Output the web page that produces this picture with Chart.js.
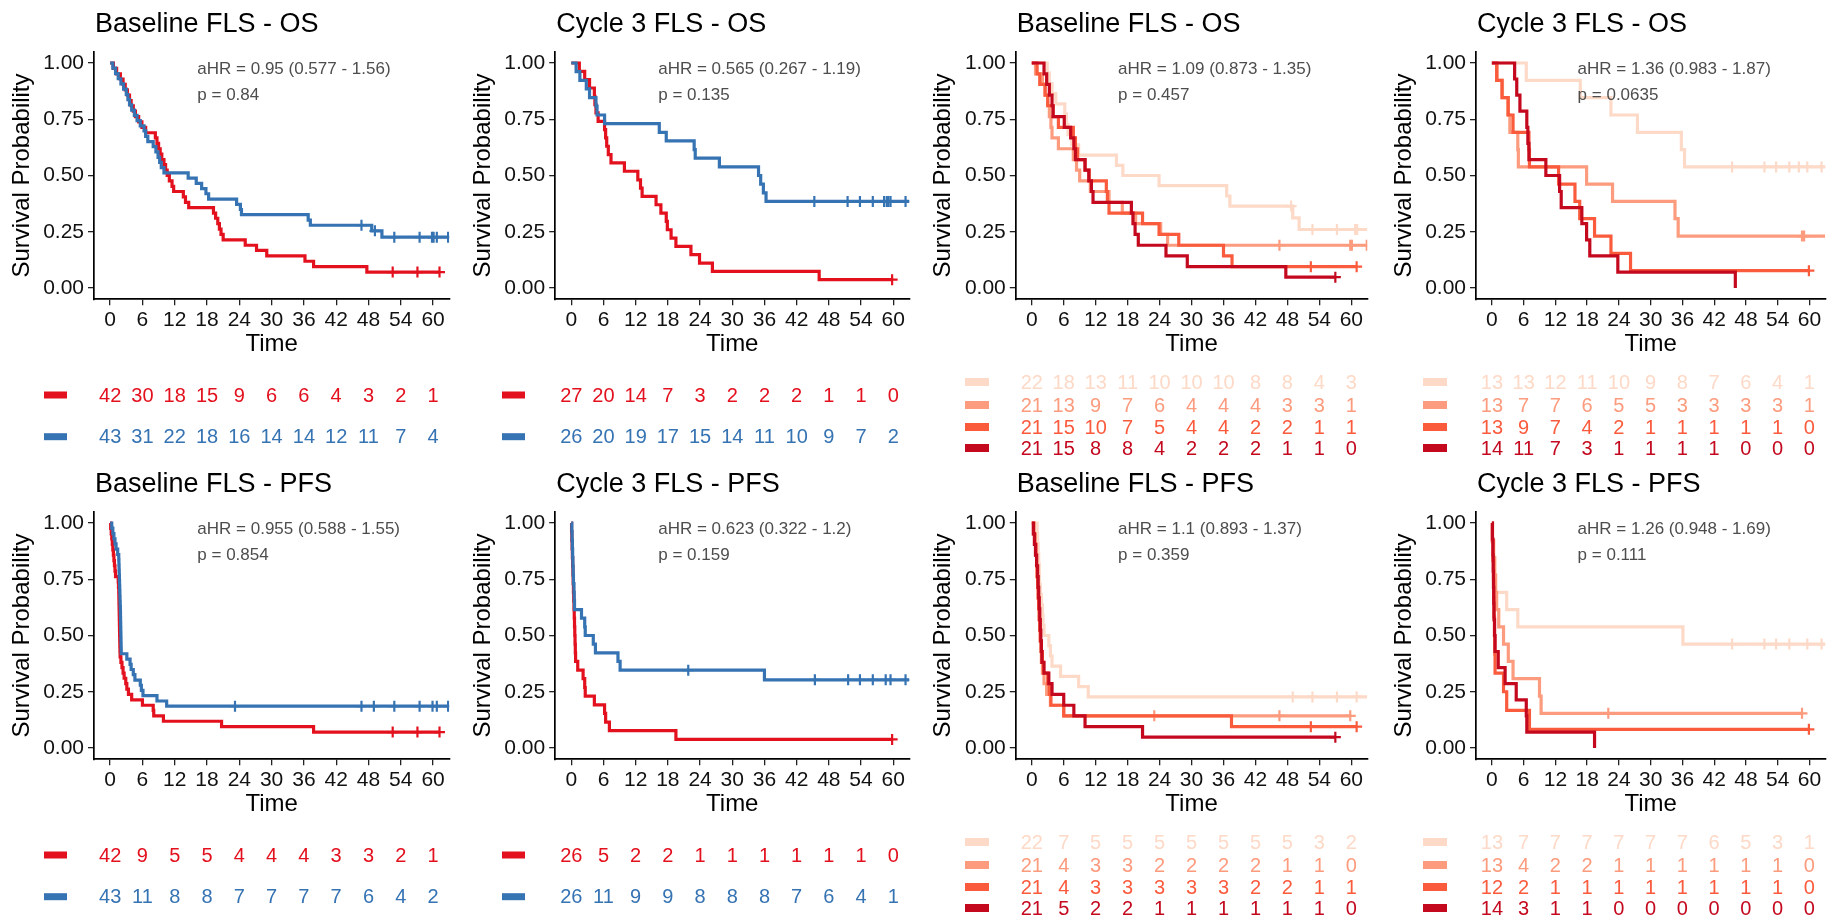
<!DOCTYPE html>
<html><head><meta charset="utf-8">
<script src="https://cdn.jsdelivr.net/npm/chart.js@4"></script>
<style>html,body{margin:0;padding:0;background:#fff;} .panel{position:absolute;}</style>
</head><body>
<div id="root" style="position:relative;width:1833px;height:918px;background:#fff;"></div>
<script>
// ---------------- DATA ----------------
const panelTitles = ["Baseline FLS - OS","Cycle 3 FLS - OS","Baseline FLS - OS","Cycle 3 FLS - OS",
                     "Baseline FLS - PFS","Cycle 3 FLS - PFS","Baseline FLS - PFS","Cycle 3 FLS - PFS"];
const hrLabels = ["aHR = 0.95 (0.577 - 1.56)","aHR = 0.565 (0.267 - 1.19)","aHR = 1.09 (0.873 - 1.35)","aHR = 1.36 (0.983 - 1.87)",
                  "aHR = 0.955 (0.588 - 1.55)","aHR = 0.623 (0.322 - 1.2)","aHR = 1.1 (0.893 - 1.37)","aHR = 1.26 (0.948 - 1.69)"];
const pLabels = ["p = 0.84","p = 0.135","p = 0.457","p = 0.0635","p = 0.854","p = 0.159","p = 0.359","p = 0.111"];
const xTickValues = [0,6,12,18,24,30,36,42,48,54,60];
const yTickValues = [0,0.25,0.5,0.75,1];
const riskTimes = [0,6,12,18,24,30,36,42,48,54,60];
const xAxisTitle = "Time";
const yAxisTitle = "Survival Probability";

// Panel 1: Baseline FLS - OS (2 groups)
const p1Red = [[0,1],[0.6,0.976],[1.2,0.952],[1.9,0.929],[2.4,0.905],[2.8,0.881],[3.2,0.857],[3.6,0.833],[3.9,0.810],[4.3,0.786],[4.7,0.762],[5.3,0.738],[5.9,0.714],[6.6,0.690],[8.4,0.667],[8.7,0.643],[9.0,0.619],[9.3,0.595],[9.6,0.571],[10.0,0.548],[10.3,0.524],[10.6,0.500],[11.0,0.476],[11.5,0.452],[11.8,0.429],[13.6,0.405],[14.0,0.381],[14.6,0.357],[19.2,0.333],[19.6,0.310],[20.0,0.286],[20.3,0.262],[20.6,0.238],[21.0,0.214],[25.1,0.190],[27.2,0.167],[29.1,0.143],[36.2,0.119],[37.8,0.095],[47.7,0.071],[61.2,0.071]];
const p1RedCensor = [52.5,57.1,61.2];
const p1Blue = [[0,1],[0.5,0.977],[1.0,0.953],[1.5,0.930],[2.0,0.907],[2.5,0.884],[3.0,0.860],[3.3,0.837],[3.6,0.814],[4.0,0.791],[4.5,0.767],[5.0,0.744],[5.6,0.721],[6.3,0.698],[6.6,0.674],[7.0,0.651],[8.0,0.628],[8.5,0.605],[8.9,0.581],[9.2,0.558],[9.5,0.535],[10.0,0.512],[14.5,0.488],[16.0,0.465],[17.0,0.442],[17.8,0.419],[18.3,0.395],[23.5,0.372],[24.2,0.349],[24.4,0.326],[36.8,0.302],[37.2,0.279],[48.6,0.254],[50.5,0.226],[63,0.226]];
const p1BlueCensor = [46.7,49.2,52.8,57.5,59.8,60.1,60.7,62.8];
const p1RedRisk = [42,30,18,15,9,6,6,4,3,2,1];
const p1BlueRisk = [43,31,22,18,16,14,14,12,11,7,4];

// Panel 2: Cycle 3 FLS - OS (2 groups)
const p2Red = [[0,1],[1.5,0.963],[2.5,0.926],[3.4,0.889],[4.3,0.852],[4.4,0.815],[4.6,0.778],[5.0,0.741],[6.2,0.704],[6.4,0.667],[6.6,0.630],[6.9,0.593],[7.4,0.556],[9.9,0.519],[12.4,0.481],[12.9,0.444],[13.2,0.407],[15.8,0.370],[16.7,0.333],[17.7,0.296],[17.9,0.259],[18.6,0.222],[19.5,0.185],[22.3,0.148],[23.9,0.111],[26.3,0.074],[46.2,0.037],[59.8,0.037]];
const p2RedCensor = [59.8];
const p2Blue = [[0,1],[0.9,0.962],[1.6,0.923],[2.8,0.885],[3.4,0.846],[4.6,0.808],[4.8,0.769],[6.2,0.731],[16.4,0.692],[17.7,0.654],[22.9,0.615],[23.1,0.577],[27.6,0.538],[34.9,0.500],[35.3,0.462],[35.8,0.423],[36.3,0.385],[63,0.385]];
const p2BlueCensor = [45.3,51.5,53.8,56.2,58.3,58.8,59.1,59.5,62.3];
const p2RedRisk = [27,20,14,7,3,2,2,2,1,1,0];
const p2BlueRisk = [26,20,19,17,15,14,11,10,9,7,2];

// Panel 3: Baseline FLS - OS (4 groups)
const p3G1 = [[0,1],[2.9,0.955],[3.3,0.909],[3.8,0.864],[4.5,0.818],[6.2,0.773],[6.5,0.727],[6.8,0.682],[7.5,0.636],[8.8,0.591],[15.9,0.545],[17.1,0.500],[23.9,0.455],[36.6,0.409],[37.2,0.364],[49.0,0.312],[50.2,0.260],[63,0.260]];
const p3G1Censor = [48.7,52.7,57.3,60.7,61.1];
const p3G2 = [[0,1],[0.7,0.952],[2.0,0.905],[2.5,0.857],[3.0,0.810],[3.3,0.762],[3.6,0.714],[3.8,0.667],[5.0,0.619],[7.8,0.571],[8.4,0.524],[9.0,0.476],[11.0,0.429],[14.5,0.381],[17.0,0.333],[19.5,0.286],[24.2,0.238],[25.5,0.190],[63,0.190]];
const p3G2Censor = [46.5,59.8,60.1,62.9];
const p3G3 = [[0,1],[1.0,0.952],[1.5,0.905],[2.5,0.857],[3.0,0.810],[4.0,0.762],[5.0,0.714],[7.8,0.667],[8.2,0.619],[8.6,0.571],[10.0,0.524],[10.8,0.476],[14.0,0.429],[14.2,0.381],[14.5,0.333],[20.8,0.286],[23.9,0.238],[27.6,0.190],[36.0,0.143],[37.6,0.095],[61.0,0.095]];
const p3G3Censor = [52.4,61.0];
const p3G4 = [[0,1],[2.3,0.952],[2.8,0.905],[3.3,0.857],[3.8,0.810],[4.0,0.762],[6.1,0.714],[7.3,0.667],[7.9,0.619],[8.2,0.571],[10.0,0.524],[10.7,0.476],[11.2,0.429],[11.5,0.381],[18.7,0.333],[19.0,0.286],[19.4,0.238],[20.0,0.190],[25.2,0.143],[29.2,0.095],[47.7,0.048],[57.0,0.048]];
const p3G4Censor = [57.0];
const p3G1Risk = [22,18,13,11,10,10,10,8,8,4,3];
const p3G2Risk = [21,13,9,7,6,4,4,4,3,3,1];
const p3G3Risk = [21,15,10,7,5,4,4,2,2,1,1];
const p3G4Risk = [21,15,8,8,4,2,2,2,1,1,0];

// Panel 4: Cycle 3 FLS - OS (4 groups)
const p4G1 = [[0,1],[6.5,0.923],[16.7,0.846],[22.5,0.769],[27.5,0.692],[35.8,0.615],[36.4,0.538],[63,0.538]];
const p4G1Censor = [45.4,51.5,53.7,56.2,58.0,59.6,62.3];
const p4G2 = [[0,1],[1.0,0.923],[2.0,0.846],[3.0,0.769],[3.4,0.692],[4.9,0.615],[5.0,0.538],[17.9,0.462],[22.8,0.385],[34.6,0.308],[35.2,0.231],[63,0.231]];
const p4G2Censor = [58.6,59.0];
const p4G3 = [[0,1],[0.9,0.923],[1.9,0.846],[3.1,0.769],[4.0,0.692],[7.0,0.615],[7.1,0.538],[12.6,0.462],[15.7,0.385],[16.6,0.308],[19.4,0.231],[22.5,0.154],[26.2,0.077],[59.9,0.077]];
const p4G3Censor = [59.9];
const p4G4 = [[0,1],[4.3,0.929],[4.7,0.857],[5.3,0.786],[6.6,0.714],[6.8,0.643],[7.0,0.571],[10.2,0.500],[12.8,0.429],[13.1,0.357],[17.0,0.286],[17.9,0.214],[18.5,0.143],[23.8,0.071],[46.0,0.0]];
const p4G4Censor = [];
const p4G1Risk = [13,13,12,11,10,9,8,7,6,4,1];
const p4G2Risk = [13,7,7,6,5,5,3,3,3,3,1];
const p4G3Risk = [13,9,7,4,2,1,1,1,1,1,0];
const p4G4Risk = [14,11,7,3,1,1,1,1,0,0,0];

// Panel 5: Baseline FLS - PFS (2 groups)
const p5Red = [[0,1],[0.1,0.976],[0.2,0.952],[0.3,0.929],[0.4,0.905],[0.5,0.881],[0.6,0.857],[0.7,0.833],[0.8,0.810],[0.9,0.786],[1.0,0.762],[1.5,0.738],[1.55,0.714],[1.6,0.690],[1.62,0.667],[1.64,0.643],[1.66,0.619],[1.68,0.595],[1.7,0.571],[1.72,0.548],[1.74,0.524],[1.76,0.500],[1.78,0.476],[1.8,0.452],[1.82,0.429],[1.85,0.405],[2.0,0.381],[2.2,0.357],[2.4,0.333],[2.6,0.310],[2.9,0.286],[3.1,0.262],[3.4,0.238],[4.0,0.214],[6.0,0.190],[8.0,0.167],[8.1,0.143],[9.9,0.119],[20.7,0.095],[37.8,0.071],[61.2,0.071]];
const p5RedCensor = [52.5,57.1,61.2];
const p5Blue = [[0,1],[0.3,0.977],[0.5,0.953],[0.7,0.930],[0.9,0.907],[1.1,0.884],[1.4,0.860],[1.6,0.837],[1.63,0.814],[1.66,0.791],[1.69,0.767],[1.72,0.744],[1.75,0.721],[1.78,0.698],[1.81,0.674],[1.84,0.651],[1.87,0.628],[1.9,0.605],[1.92,0.581],[1.94,0.558],[1.96,0.535],[1.98,0.512],[2.0,0.488],[2.02,0.465],[2.04,0.442],[2.06,0.419],[3.1,0.395],[3.7,0.372],[3.9,0.349],[4.3,0.326],[4.6,0.302],[5.6,0.279],[5.8,0.256],[6.1,0.233],[8.7,0.209],[10.5,0.186],[63,0.186]];
const p5BlueCensor = [23.2,46.7,49.0,52.8,57.5,59.9,60.7,62.8];
const p5RedRisk = [42,9,5,5,4,4,4,3,3,2,1];
const p5BlueRisk = [43,11,8,8,7,7,7,7,6,4,2];

// Panel 6: Cycle 3 FLS - PFS (2 groups)
const p6Red = [[0,1],[0.05,0.962],[0.1,0.923],[0.15,0.885],[0.2,0.846],[0.25,0.808],[0.3,0.769],[0.35,0.731],[0.4,0.692],[0.45,0.654],[0.5,0.615],[0.55,0.577],[0.6,0.538],[0.65,0.500],[0.7,0.462],[0.75,0.423],[0.8,0.385],[1.2,0.346],[2.2,0.308],[2.5,0.269],[2.6,0.231],[4.3,0.192],[6.2,0.154],[6.4,0.115],[7.1,0.077],[19.5,0.038],[59.8,0.038]];
const p6RedCensor = [59.8];
const p6Blue = [[0,1],[0.1,0.962],[0.15,0.923],[0.2,0.885],[0.25,0.846],[0.3,0.808],[0.35,0.769],[0.4,0.731],[0.5,0.692],[0.55,0.654],[0.6,0.615],[1.9,0.577],[2.5,0.538],[2.6,0.500],[4.1,0.462],[4.5,0.423],[8.7,0.385],[9.1,0.346],[36.0,0.303],[63,0.303]];
const p6BlueCensor = [21.8,45.4,51.6,53.8,56.2,58.6,59.5,62.3];
const p6RedRisk = [26,5,2,2,1,1,1,1,1,1,0];
const p6BlueRisk = [26,11,9,9,8,8,8,7,6,4,1];

// Panel 7: Baseline FLS - PFS (4 groups)
const p7G1 = [[0,1],[1.0,0.955],[1.1,0.909],[1.2,0.864],[1.3,0.818],[1.4,0.773],[1.45,0.727],[1.6,0.682],[1.8,0.636],[2.0,0.591],[2.1,0.545],[2.3,0.500],[3.2,0.455],[3.5,0.409],[3.8,0.364],[5.4,0.318],[8.8,0.273],[10.6,0.227],[63,0.227]];
const p7G1Censor = [49.0,52.7,57.3,61.0];
const p7G2 = [[0,1],[0.3,0.952],[0.5,0.905],[0.7,0.857],[0.9,0.810],[1.0,0.762],[1.1,0.714],[1.2,0.667],[1.3,0.619],[1.4,0.571],[1.5,0.524],[1.6,0.476],[1.7,0.429],[1.8,0.381],[2.0,0.333],[2.3,0.286],[2.8,0.238],[3.5,0.190],[6.0,0.143],[59.8,0.143]];
const p7G2Censor = [23.0,46.5,59.8];
const p7G3 = [[0,1],[0.4,0.952],[0.6,0.905],[0.8,0.857],[0.9,0.810],[1.0,0.762],[1.1,0.714],[1.2,0.667],[1.3,0.619],[1.4,0.571],[1.5,0.524],[1.6,0.476],[1.8,0.429],[2.0,0.381],[2.2,0.333],[3.0,0.286],[3.3,0.238],[3.6,0.190],[6.0,0.143],[37.5,0.095],[61.0,0.095]];
const p7G3Censor = [52.4,61.0];
const p7G4 = [[0,1],[0.3,0.952],[0.5,0.905],[0.7,0.857],[0.9,0.810],[1.1,0.762],[1.2,0.714],[1.3,0.667],[1.4,0.619],[1.5,0.571],[1.6,0.524],[1.7,0.476],[1.8,0.429],[1.9,0.381],[2.3,0.333],[3.2,0.286],[3.8,0.238],[6.0,0.190],[7.9,0.143],[10.0,0.095],[20.8,0.048],[57.0,0.048]];
const p7G4Censor = [57.0];
const p7G1Risk = [22,7,5,5,5,5,5,5,5,3,2];
const p7G2Risk = [21,4,3,3,2,2,2,2,1,1,0];
const p7G3Risk = [21,4,3,3,3,3,3,2,2,1,1];
const p7G4Risk = [21,5,2,2,1,1,1,1,1,1,0];

// Panel 8: Cycle 3 FLS - PFS (4 groups)
const p8G1 = [[0,1],[0.2,0.923],[0.4,0.846],[0.6,0.769],[0.7,0.692],[2.8,0.615],[4.9,0.538],[36.1,0.462],[63,0.462]];
const p8G1Censor = [45.4,51.5,53.7,56.2,59.6,62.3];
const p8G2 = [[0,1],[0.1,0.923],[0.3,0.846],[0.5,0.769],[0.7,0.692],[0.9,0.615],[1.3,0.538],[2.2,0.462],[3.1,0.385],[4.0,0.308],[9.0,0.231],[9.3,0.154],[58.6,0.154]];
const p8G2Censor = [22.0,58.6];
const p8G3 = [[0,1],[0.1,0.917],[0.2,0.833],[0.3,0.750],[0.35,0.667],[0.4,0.583],[0.5,0.500],[0.55,0.417],[0.6,0.333],[2.2,0.250],[2.8,0.167],[7.1,0.083],[59.9,0.083]];
const p8G3Censor = [59.9];
const p8G4 = [[0,1],[0.1,0.929],[0.2,0.857],[0.25,0.786],[0.3,0.714],[0.35,0.643],[0.4,0.571],[0.5,0.500],[0.6,0.429],[1.2,0.357],[2.5,0.286],[4.6,0.214],[6.5,0.143],[6.6,0.071],[19.4,0.0]];
const p8G4Censor = [];
const p8G1Risk = [13,7,7,7,7,7,7,6,5,3,1];
const p8G2Risk = [13,4,2,2,1,1,1,1,1,1,0];
const p8G3Risk = [12,2,1,1,1,1,1,1,1,1,0];
const p8G4Risk = [14,3,1,1,0,0,0,0,0,0,0];

// ---------------- STYLE / LAYOUT ----------------
const FONT = '"Liberation Sans", Arial, Helvetica, sans-serif';
const RED = '#E3101E', BLUE = '#3573B3';
const REDS = ['#FDD9C7', '#FC9B7D', '#FA5B3D', '#C4091F'];
const COL_LEFT = [0, 458, 916, 1374];
const ROW_TOP = [0, 460];
const CANVAS_W = 459, CANVAS_H = 458;
const AXIS_LEFT = [94, 97.2, 99.8, 102];
const AXIS_RIGHT = [449.2, 452, 455.5, 459];
const PLOT_TOP = 51.75, PLOT_BOTTOM = 299.25, XAXIS_H = 60, YAXIS_W = 94;

Chart.defaults.font.family = FONT;

function grp2(c1, c1c, r1, c2, c2c, r2) {
  return [{color: RED, curve: c1, censor: c1c, risk: r1}, {color: BLUE, curve: c2, censor: c2c, risk: r2}];
}
function grp4(a) {
  return a.map((g, i) => ({color: REDS[i], curve: g[0], censor: g[1], risk: g[2]}));
}
const panels = [
  grp2(p1Red, p1RedCensor, p1RedRisk, p1Blue, p1BlueCensor, p1BlueRisk),
  grp2(p2Red, p2RedCensor, p2RedRisk, p2Blue, p2BlueCensor, p2BlueRisk),
  grp4([[p3G1,p3G1Censor,p3G1Risk],[p3G2,p3G2Censor,p3G2Risk],[p3G3,p3G3Censor,p3G3Risk],[p3G4,p3G4Censor,p3G4Risk]]),
  grp4([[p4G1,p4G1Censor,p4G1Risk],[p4G2,p4G2Censor,p4G2Risk],[p4G3,p4G3Censor,p4G3Risk],[p4G4,p4G4Censor,p4G4Risk]]),
  grp2(p5Red, p5RedCensor, p5RedRisk, p5Blue, p5BlueCensor, p5BlueRisk),
  grp2(p6Red, p6RedCensor, p6RedRisk, p6Blue, p6BlueCensor, p6BlueRisk),
  grp4([[p7G1,p7G1Censor,p7G1Risk],[p7G2,p7G2Censor,p7G2Risk],[p7G3,p7G3Censor,p7G3Risk],[p7G4,p7G4Censor,p7G4Risk]]),
  grp4([[p8G1,p8G1Censor,p8G1Risk],[p8G2,p8G2Censor,p8G2Risk],[p8G3,p8G3Censor,p8G3Risk],[p8G4,p8G4Censor,p8G4Risk]])
];

function survAt(curve, t) {
  let s = 1;
  for (const [x, y] of curve) { if (x <= t + 1e-9) s = y; else break; }
  return s;
}

function makePlugin(idx) {
  const groups = panels[idx];
  return {
    id: 'km' + idx,
    afterDatasetsDraw(chart) {
      const ctx = chart.ctx, xs = chart.scales.x, ys = chart.scales.y;
      ctx.save();
      ctx.font = '17px ' + FONT;
      ctx.fillStyle = '#4d4d4d';
      ctx.textAlign = 'left';
      ctx.textBaseline = 'middle';
      const ax = xs.getPixelForValue(16.2);
      ctx.fillText(hrLabels[idx], ax, ys.getPixelForValue(0.973));
      ctx.fillText(pLabels[idx], ax, ys.getPixelForValue(0.858));
      ctx.restore();
    },
    afterDraw(chart) {
      const ctx = chart.ctx, xs = chart.scales.x;
      ctx.save();
      ctx.font = '27px ' + FONT;
      ctx.fillStyle = '#000';
      ctx.textAlign = 'left';
      ctx.textBaseline = 'middle';
      ctx.fillText(panelTitles[idx], chart.chartArea.left + 1, 25);
      const n = groups.length;
      const rows = n === 2 ? [395, 436.7] : [382, 405, 427, 448];
      const sw = n === 2 ? {x0: 44, x1: 67, h: 7} : {x0: 49, x1: 73, h: 8};
      ctx.font = '20px ' + FONT;
      ctx.textAlign = 'center';
      groups.forEach((g, i) => {
        ctx.fillStyle = g.color;
        ctx.fillRect(sw.x0, rows[i] - sw.h / 2, sw.x1 - sw.x0, sw.h);
        riskTimes.forEach((t, j) => {
          ctx.fillText(String(g.risk[j]), xs.getPixelForValue(t), rows[i] + 1);
        });
      });
      ctx.restore();
    }
  };
}

const root = document.getElementById('root');
panels.forEach((groups, idx) => {
  const row = idx < 4 ? 0 : 1, col = idx % 4;
  const div = document.createElement('div');
  div.className = 'panel';
  div.style.left = COL_LEFT[col] + 'px';
  div.style.top = ROW_TOP[row] + 'px';
  div.style.width = CANVAS_W + 'px';
  div.style.height = CANVAS_H + 'px';
  const canvas = document.createElement('canvas');
  div.appendChild(canvas);
  root.appendChild(div);

  const datasets = [];
  const n = groups.length;
  groups.forEach((g, i) => {
    const order = n - i;
    datasets.push({
      data: g.curve.map(([x, y]) => ({x, y})),
      stepped: 'before', borderColor: g.color, borderWidth: 3.2, pointRadius: 0,
      pointHoverRadius: 0, fill: false, tension: 0, order: order
    });
    datasets.push({
      data: g.censor.map(t => ({x: t, y: survAt(g.curve, t)})),
      showLine: false, pointStyle: 'cross', pointRadius: 5.5, pointHoverRadius: 5.5,
      pointBorderColor: g.color, pointBackgroundColor: g.color, pointBorderWidth: 2.2,
      borderColor: g.color, order: order
    });
  });

  const padL = AXIS_LEFT[col] - YAXIS_W;
  const tickFont = {size: 21, family: FONT};
  const gridOpts = {display: true, drawOnChartArea: false, drawTicks: true, tickLength: 6, tickColor: '#222', color: '#222', lineWidth: 1.3};
  const borderOpts = {display: true, color: '#000', width: 1.7};

  new Chart(canvas, {
    type: 'line',
    data: {datasets},
    options: {
      responsive: true, maintainAspectRatio: false, animation: false, events: [],
      layout: {padding: {left: padL, right: CANVAS_W - AXIS_RIGHT[col], top: PLOT_TOP, bottom: CANVAS_H - PLOT_BOTTOM - XAXIS_H}},
      plugins: {legend: {display: false}, title: {display: false}, tooltip: {enabled: false}},
      scales: {
        x: {
          type: 'linear', min: -3, max: 63,
          afterBuildTicks: s => { s.ticks = xTickValues.map(v => ({value: v})); },
          afterFit: s => { s.height = XAXIS_H; },
          ticks: {font: tickFont, color: '#111', padding: 2, maxRotation: 0, autoSkip: false, callback: v => String(v)},
          grid: gridOpts, border: borderOpts,
          title: {display: true, text: xAxisTitle, font: {size: 24, family: FONT}, color: '#000', padding: {top: 0, bottom: 0}}
        },
        y: {
          type: 'linear', min: -0.05, max: 1.05,
          afterBuildTicks: s => { s.ticks = yTickValues.map(v => ({value: v})); },
          afterFit: s => { s.width = YAXIS_W; },
          ticks: {font: tickFont, color: '#111', padding: 4, autoSkip: false, callback: v => Number(v).toFixed(2)},
          grid: gridOpts, border: borderOpts,
          title: {display: true, text: yAxisTitle, font: {size: 24, family: FONT}, color: '#000', padding: {top: 7.6, bottom: 0}}
        }
      }
    },
    plugins: [makePlugin(idx)]
  });
});
</script>
</body></html>
